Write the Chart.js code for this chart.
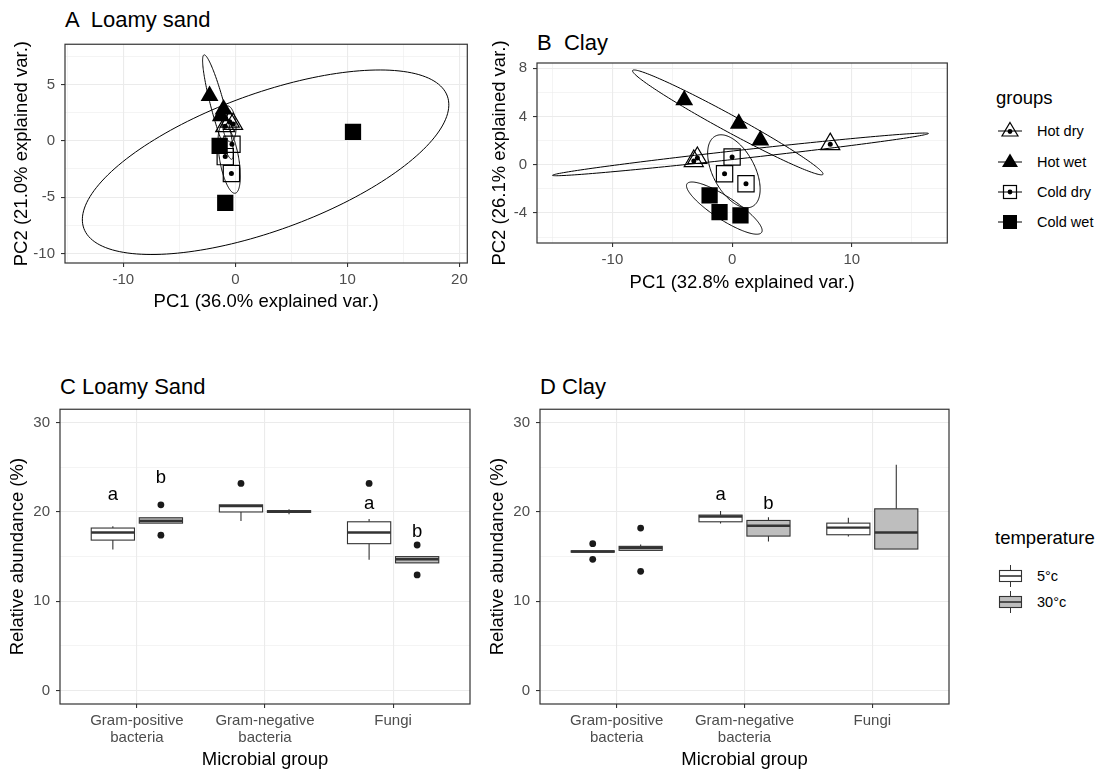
<!DOCTYPE html>
<html>
<head>
<meta charset="utf-8">
<script src="https://cdn.jsdelivr.net/npm/chart.js@4.4.1/dist/chart.umd.min.js"></script>
<style>
  body { margin: 0; background: #fff; }
  #fig { position: relative; width: 1103px; height: 773px; font-family: "Liberation Sans", Arial, sans-serif; overflow: hidden; }
  .cv { position: absolute; }
  .ptitle { position: absolute; font-size: 22px; color: #000; white-space: pre; line-height: 1; }
  .lgtitle { position: absolute; font-size: 18.5px; color: #000; line-height: 1; }
  .lgitem { position: absolute; height: 20px; display: flex; align-items: center; font-size: 14.5px; color: #000; }
  .lgitem svg { margin-right: 13px; }
</style>
</head>
<body>
<div id="fig">
  <div class="ptitle" style="left:65px;top:9px">A  Loamy sand</div>
  <div class="ptitle" style="left:537px;top:32px">B  Clay</div>
  <div class="ptitle" style="left:60px;top:376px">C Loamy Sand</div>
  <div class="ptitle" style="left:540px;top:376px">D Clay</div>

  <canvas id="pcaSand" class="cv" style="left:0;top:30px" width="480" height="290"></canvas>
  <canvas id="pcaClay" class="cv" style="left:480px;top:40px" width="480" height="270"></canvas>
  <canvas id="boxSand" class="cv" style="left:0;top:395px" width="480" height="378"></canvas>
  <canvas id="boxClay" class="cv" style="left:480px;top:395px" width="480" height="378"></canvas>

  <div class="lgtitle" style="left:996px;top:89px">groups</div>
  <div class="lgitem" style="left:998px;top:121px">
    <svg width="26" height="20"><line x1="0" y1="10" x2="24" y2="10" stroke="#000" stroke-width="1"/><polygon points="12,1.5 20,15 4,15" fill="none" stroke="#000" stroke-width="1.2"/><circle cx="12" cy="10.5" r="2.4" fill="#000"/></svg>Hot dry</div>
  <div class="lgitem" style="left:998px;top:152px">
    <svg width="26" height="20"><line x1="0" y1="10" x2="24" y2="10" stroke="#000" stroke-width="1"/><polygon points="12,1.5 20,15 4,15" fill="#000"/></svg>Hot wet</div>
  <div class="lgitem" style="left:998px;top:182px">
    <svg width="26" height="20"><line x1="0" y1="10" x2="24" y2="10" stroke="#000" stroke-width="1"/><rect x="5.5" y="3.5" width="13" height="13" fill="none" stroke="#000" stroke-width="1.2"/><circle cx="12" cy="10" r="2.4" fill="#000"/></svg>Cold dry</div>
  <div class="lgitem" style="left:998px;top:212px">
    <svg width="26" height="20"><line x1="0" y1="10" x2="24" y2="10" stroke="#000" stroke-width="1"/><rect x="5" y="3" width="14" height="14" fill="#000"/></svg>Cold wet</div>

  <div class="lgtitle" style="left:995px;top:529px">temperature</div>
  <div class="lgitem" style="left:998px;top:566px">
    <svg width="26" height="22"><line x1="12.5" y1="0" x2="12.5" y2="22" stroke="#333" stroke-width="1"/><rect x="1.5" y="5.5" width="22" height="11" fill="#fff" stroke="#333" stroke-width="1.1"/><line x1="1.5" y1="11" x2="23.5" y2="11" stroke="#333" stroke-width="1.6"/></svg>5°c</div>
  <div class="lgitem" style="left:998px;top:592px">
    <svg width="26" height="22"><line x1="12.5" y1="0" x2="12.5" y2="22" stroke="#333" stroke-width="1"/><rect x="1.5" y="5.5" width="22" height="11" fill="#bebebe" stroke="#333" stroke-width="1.1"/><line x1="1.5" y1="11" x2="23.5" y2="11" stroke="#333" stroke-width="1.6"/></svg>30°c</div>
</div>

<script>
// ---- PCA scores (PC1, PC2) ----
const groupNames = ['Hot dry', 'Hot wet', 'Cold dry', 'Cold wet'];

// A  Loamy sand
const sandHotDry  = [[-0.5, 1.7], [-0.2, 1.5], [-0.9, 1.3]];
const sandHotWet  = [[-2.3, 4.0], [-1.3, 2.2], [-1.05, 2.8]];
const sandColdDry = [[-0.3, -0.3], [-0.35, -2.9], [-0.9, -1.4]];
const sandColdWet = [[10.5, 0.8], [-0.9, -5.5], [-1.4, -0.45]];
// ellipses per group: centre x, centre y, semi axes, angle (deg)
const sandEllCx    = [-0.55, -1.55, -0.55, 2.7];
const sandEllCy    = [1.5, 3.0, -1.6, -1.9];
const sandEllA     = [1.6, 4.8, 3.1, 17.25];
const sandEllB     = [0.6, 0.6, 0.85, 6.08];
const sandEllAngle = [95, 105, 100, 19.9];

// B  Clay
const clayHotDry  = [[-2.9, 0.55], [-3.2, 0.3], [8.2, 1.7]];
const clayHotWet  = [[-4.0, 5.35], [0.56, 3.4], [2.36, 2.02]];
const clayColdDry = [[0.0, 0.63], [-0.63, -0.75], [1.16, -1.58]];
const clayColdWet = [[-1.88, -2.55], [-1.05, -3.94], [0.7, -4.2]];
const clayEllCx    = [0.7, -0.36, 0.15, -0.65];
const clayEllCy    = [0.85, 3.5, -0.55, -3.6];
const clayEllA     = [15.8, 9.04, 3.3, 3.71];
const clayEllB     = [0.35, 0.7, 1.75, 0.95];
const clayEllAngle = [6.3, -28.4, -61.8, -32.8];

// ---- relative abundance boxplots: [lower whisker, q1, median, q3, upper whisker] ----
const microbes = [['Gram-positive', 'bacteria'], ['Gram-negative', 'bacteria'], ['Fungi']];
const temps = ['5°c', '30°c'];

const sand5  = [[15.8, 16.85, 17.7, 18.2, 18.4], [19.0, 20.0, 20.65, 20.8, 20.8], [14.65, 16.45, 17.7, 18.9, 19.2]];
const sand30 = [[18.75, 18.75, 19.0, 19.35, 19.35], [19.75, 19.95, 20.05, 20.15, 20.3], [14.3, 14.3, 14.7, 15.0, 15.0]];
const sand5Out  = [[], [23.2], [23.2]];
const sand30Out = [[20.8, 17.4], [], [16.3, 12.95]];
const sandLetters = [[0, 0, 21.95, 'a'], [0, 1, 23.8, 'b'], [2, 0, 20.9, 'a'], [2, 1, 17.75, 'b']];

const clay5  = [[15.45, 15.5, 15.57, 15.65, 15.7], [18.7, 18.9, 19.5, 19.65, 20.1], [17.25, 17.45, 18.25, 18.75, 19.35]];
const clay30 = [[15.7, 15.7, 16.0, 16.15, 16.35], [16.7, 17.3, 18.45, 19.05, 19.4], [15.85, 15.85, 17.7, 20.35, 25.3]];
const clay5Out  = [[16.45, 14.7], [], []];
const clay30Out = [[18.2, 13.35], [], []];
const clayLetters = [[1, 0, 21.95, 'a'], [1, 1, 20.85, 'b']];

const abundanceTicks = [0, 10, 20, 30];

// ---- styling ----
const FONT = '"Liberation Sans", Arial, sans-serif';
const GRID = '#ebebeb', INK = '#333333', TICK = '#4d4d4d';
const DODGE = 0.1875, BOX_W = 0.3375;

function axis(o) {
  const all = o.major.concat(o.minor || []).sort((a, b) => a - b);
  const isMajor = v => o.major.includes(v);
  return {
    type: 'linear', min: o.min, max: o.max,
    afterBuildTicks: s => { s.ticks = all.map(v => ({ value: v })); },
    afterFit: s => { if (s.isHorizontal()) s.height = o.fit; else s.width = o.fit; },
    grid: {
      color: GRID,
      lineWidth: c => isMajor(c.tick.value) ? 1.1 : 0.55,
      tickLength: 4,
      tickWidth: 1.1,
      tickColor: c => isMajor(c.tick.value) ? INK : 'rgba(0,0,0,0)'
    },
    border: { display: false },
    ticks: {
      autoSkip: false, maxRotation: 0, minRotation: 0, padding: o.tickPad, color: TICK,
      font: { family: FONT, size: 15, lineHeight: 1.1 },
      callback: v => isMajor(v) ? (o.label ? o.label(v) : String(v)) : ''
    },
    title: { display: true, text: o.title, color: '#000', font: { family: FONT, size: 18.5 }, padding: o.titlePad }
  };
}

const framePlugin = {
  id: 'frame',
  afterDraw(chart) {
    const { ctx, chartArea: a } = chart;
    ctx.save();
    ctx.strokeStyle = INK;
    ctx.lineWidth = 1.2;
    ctx.strokeRect(a.left, a.top, a.right - a.left, a.bottom - a.top);
    ctx.restore();
  }
};

function ellipsePlugin(cx, cy, ra, rb, ang) {
  return {
    id: 'ellipses',
    beforeDatasetsDraw(chart) {
      const { ctx, chartArea: a, scales: { x, y } } = chart;
      ctx.save();
      ctx.beginPath();
      ctx.rect(a.left, a.top, a.right - a.left, a.bottom - a.top);
      ctx.clip();
      ctx.strokeStyle = '#000';
      ctx.lineWidth = 1;
      for (let g = 0; g < cx.length; g++) {
        const c = Math.cos(ang[g] * Math.PI / 180), s = Math.sin(ang[g] * Math.PI / 180);
        ctx.beginPath();
        for (let i = 0; i <= 180; i++) {
          const t = i / 180 * 2 * Math.PI;
          const u = ra[g] * Math.cos(t), w = rb[g] * Math.sin(t);
          const px = x.getPixelForValue(cx[g] + u * c - w * s);
          const py = y.getPixelForValue(cy[g] + u * s + w * c);
          if (i) ctx.lineTo(px, py); else ctx.moveTo(px, py);
        }
        ctx.closePath();
        ctx.stroke();
      }
      ctx.restore();
    }
  };
}

function pts(arr) { return arr.map(p => ({ x: p[0], y: p[1] })); }

function pcaDatasets(hotDry, hotWet, coldDry, coldWet) {
  const dot = arr => ({ data: pts(arr), pointStyle: 'circle', pointRadius: 2.5, backgroundColor: '#000', borderWidth: 0, order: 0 });
  return [
    dot(hotDry), dot(coldDry),
    { label: groupNames[0], data: pts(hotDry), pointStyle: 'triangle', pointRadius: 11, backgroundColor: 'rgba(0,0,0,0)', borderColor: '#000', borderWidth: 1.2, order: 1 },
    { label: groupNames[1], data: pts(hotWet), pointStyle: 'triangle', pointRadius: 10.3, backgroundColor: '#000', borderWidth: 0, order: 1 },
    { label: groupNames[2], data: pts(coldDry), pointStyle: 'rect', pointRadius: 11.5, backgroundColor: 'rgba(0,0,0,0)', borderColor: '#000', borderWidth: 1.2, order: 1 },
    { label: groupNames[3], data: pts(coldWet), pointStyle: 'rect', pointRadius: 11.5, backgroundColor: '#000', borderWidth: 0, order: 1 }
  ];
}

const baseOpts = {
  responsive: false, animation: false, devicePixelRatio: 1,
  plugins: { legend: { display: false }, tooltip: { enabled: false } },
  events: []
};

// A
new Chart(document.getElementById('pcaSand'), {
  type: 'scatter',
  data: { datasets: pcaDatasets(sandHotDry, sandHotWet, sandColdDry, sandColdWet) },
  options: Object.assign({}, baseOpts, {
    layout: { padding: { top: 12, right: 10, left: 0, bottom: 0 } },
    scales: {
      x: axis({ min: -15.2, max: 20.7, major: [-10, 0, 10, 20], minor: [-15, -5, 5, 15], fit: 57, tickPad: 5, title: 'PC1 (36.0% explained var.)', titlePad: { top: 0, bottom: 7.2 } }),
      y: axis({ min: -10.85, max: 8.58, major: [-10, -5, 0, 5], minor: [-7.5, -2.5, 2.5, 7.5], fit: 65, tickPad: 6, title: 'PC2 (21.0% explained var.)', titlePad: { top: 10.4, bottom: 0 } })
    }
  }),
  plugins: [ellipsePlugin(sandEllCx, sandEllCy, sandEllA, sandEllB, sandEllAngle), framePlugin]
});

// B
new Chart(document.getElementById('pcaClay'), {
  type: 'scatter',
  data: { datasets: pcaDatasets(clayHotDry, clayHotWet, clayColdDry, clayColdWet) },
  options: Object.assign({}, baseOpts, {
    layout: { padding: { top: 23, right: 11, left: 0, bottom: 0 } },
    scales: {
      x: axis({ min: -16.3, max: 17.98, major: [-10, 0, 10], minor: [-15, -5, 5, 15], fit: 67, tickPad: 5, title: 'PC1 (32.8% explained var.)', titlePad: { top: 0, bottom: 15.6 } }),
      y: axis({ min: -6.49, max: 8.42, major: [-4, 0, 4, 8], minor: [-6, -2, 2, 6], fit: 57, tickPad: 6, title: 'PC2 (26.1% explained var.)', titlePad: { top: 8.9, bottom: 0 } })
    }
  }),
  plugins: [ellipsePlugin(clayEllCx, clayEllCy, clayEllA, clayEllB, clayEllAngle), framePlugin]
});

// boxplots
function boxPlugin(series, letters) {
  return {
    id: 'boxes',
    beforeDatasetsDraw(chart) {
      const { ctx, scales: { x, y } } = chart;
      ctx.save();
      series.forEach(s => {
        s.stats.forEach((st, i) => {
          const c = i + 1 + s.shift;
          const l = x.getPixelForValue(c - BOX_W / 2), r = x.getPixelForValue(c + BOX_W / 2), m = x.getPixelForValue(c);
          const [lo, q1, med, q3, hi] = st.map(v => y.getPixelForValue(v));
          ctx.strokeStyle = INK;
          ctx.lineWidth = 1.1;
          ctx.beginPath();
          ctx.moveTo(m, hi); ctx.lineTo(m, q3);
          ctx.moveTo(m, q1); ctx.lineTo(m, lo);
          ctx.stroke();
          ctx.fillStyle = s.fill;
          ctx.fillRect(l, q3, r - l, q1 - q3);
          ctx.strokeRect(l, q3, r - l, q1 - q3);
          ctx.lineWidth = 2.4;
          ctx.beginPath();
          ctx.moveTo(l, med); ctx.lineTo(r, med);
          ctx.stroke();
        });
      });
      ctx.restore();
    },
    afterDatasetsDraw(chart) {
      const { ctx, scales: { x, y } } = chart;
      ctx.save();
      ctx.fillStyle = '#000';
      ctx.font = '18.5px ' + FONT;
      ctx.textAlign = 'center';
      ctx.textBaseline = 'middle';
      letters.forEach(([cat, t, v, txt]) => {
        ctx.fillText(txt, x.getPixelForValue(cat + 1 + (t ? DODGE : -DODGE)), y.getPixelForValue(v));
      });
      ctx.restore();
    }
  };
}

function outliers(list, shift) {
  const out = [];
  list.forEach((vals, i) => vals.forEach(v => out.push({ x: i + 1 + shift, y: v })));
  return { data: out, pointStyle: 'circle', pointRadius: 3.4, backgroundColor: '#1a1a1a', borderWidth: 0 };
}

function boxChart(id, low, high, lowOut, highOut, letters, padRight) {
  new Chart(document.getElementById(id), {
    type: 'scatter',
    data: { datasets: [outliers(lowOut, -DODGE), outliers(highOut, DODGE)] },
    options: Object.assign({}, baseOpts, {
      layout: { padding: { top: 14, right: padRight, left: 0, bottom: 0 } },
      scales: {
        x: Object.assign(axis({ min: 0.4, max: 3.6, major: [1, 2, 3], fit: 69, tickPad: 5, title: 'Microbial group', titlePad: { top: 0, bottom: 1.9 }, label: v => microbes[v - 1] })),
        y: axis({ min: -1.5, max: 31.5, major: abundanceTicks, minor: [5, 15, 25], fit: 60, tickPad: 6, title: 'Relative abundance (%)', titlePad: { top: 7.2, bottom: 0 } })
      }
    }),
    plugins: [boxPlugin([{ stats: low, shift: -DODGE, fill: '#ffffff' }, { stats: high, shift: DODGE, fill: '#bebebe' }], letters), framePlugin]
  });
}

boxChart('boxSand', sand5, sand30, sand5Out, sand30Out, sandLetters, 10);
boxChart('boxClay', clay5, clay30, clay5Out, clay30Out, clayLetters, 11);
</script>
</body>
</html>
